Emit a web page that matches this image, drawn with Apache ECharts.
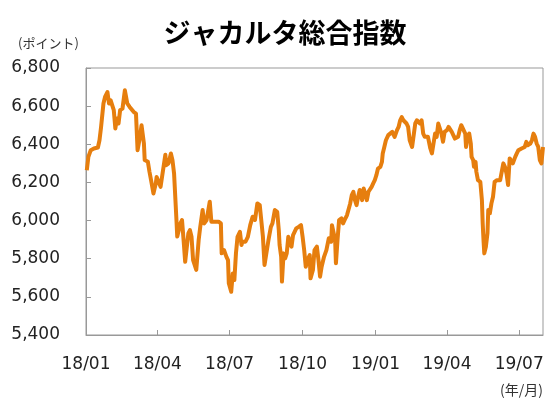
<!DOCTYPE html>
<html><head><meta charset="utf-8">
<script src="https://cdn.jsdelivr.net/npm/echarts@6/dist/echarts.min.js"></script>
<style>html,body{margin:0;padding:0;background:#fff}#c{width:550px;height:401px}</style>
</head><body><div id="c"></div>
<script>
const titleText = 'ジャカルタ総合指数';
const yUnit = '(ポイント)';
const xUnit = '(年/月)';
const tickDates = ['2018-01-01','2018-04-01','2018-07-01','2018-10-01','2019-01-01','2019-04-01','2019-07-01'];
const tickLabels = ['18/01','18/04','18/07','18/10','19/01','19/04','19/07'];
const dates = [
'2018-01-02','2018-01-04','2018-01-07','2018-01-11','2018-01-16','2018-01-18','2018-01-20','2018-01-22','2018-01-23','2018-01-25','2018-01-28','2018-01-30',
'2018-02-01','2018-02-05','2018-02-07','2018-02-09','2018-02-11','2018-02-13','2018-02-16','2018-02-19','2018-02-22','2018-02-25','2018-02-27',
'2018-03-02','2018-03-05','2018-03-07','2018-03-10','2018-03-12','2018-03-15','2018-03-16','2018-03-20','2018-03-22','2018-03-24','2018-03-26','2018-03-27','2018-03-30','2018-03-31',
'2018-04-01','2018-04-05','2018-04-07','2018-04-11','2018-04-12','2018-04-15','2018-04-18','2018-04-20','2018-04-22','2018-04-25','2018-04-26','2018-04-27','2018-04-30',
'2018-05-02','2018-05-04','2018-05-06','2018-05-08','2018-05-10','2018-05-12','2018-05-14','2018-05-16','2018-05-20','2018-05-23','2018-05-25','2018-05-28','2018-05-30',
'2018-06-02','2018-06-06','2018-06-08','2018-06-11','2018-06-17','2018-06-20','2018-06-21','2018-06-24','2018-06-27','2018-06-29','2018-06-30',
'2018-07-03','2018-07-05','2018-07-07','2018-07-09','2018-07-11','2018-07-14','2018-07-16','2018-07-17','2018-07-21','2018-07-24','2018-07-27','2018-07-30',
'2018-08-02','2018-08-05','2018-08-08','2018-08-10','2018-08-12','2018-08-14','2018-08-16','2018-08-19','2018-08-22','2018-08-24','2018-08-27','2018-08-30',
'2018-09-01','2018-09-02','2018-09-04','2018-09-05','2018-09-07','2018-09-09','2018-09-11','2018-09-13','2018-09-15','2018-09-17','2018-09-19','2018-09-23','2018-09-26','2018-09-29',
'2018-10-01','2018-10-03','2018-10-05','2018-10-07','2018-10-10','2018-10-11','2018-10-14','2018-10-16','2018-10-19','2018-10-21','2018-10-23','2018-10-25','2018-10-28','2018-10-31',
'2018-11-03','2018-11-06','2018-11-07','2018-11-09','2018-11-11','2018-11-12','2018-11-14','2018-11-16','2018-11-19','2018-11-21','2018-11-24','2018-11-26','2018-11-28','2018-11-30',
'2018-12-02','2018-12-04','2018-12-06','2018-12-08','2018-12-10','2018-12-12','2018-12-15','2018-12-17','2018-12-19','2018-12-21','2018-12-23','2018-12-25','2018-12-27','2018-12-29','2018-12-31',
'2019-01-02','2019-01-04','2019-01-07','2019-01-09','2019-01-10','2019-01-12','2019-01-14','2019-01-17','2019-01-19','2019-01-22','2019-01-25','2019-01-28','2019-01-30',
'2019-02-01','2019-02-03','2019-02-05','2019-02-07','2019-02-09','2019-02-11','2019-02-13','2019-02-16','2019-02-18','2019-02-20','2019-02-22','2019-02-24','2019-02-26','2019-02-28',
'2019-03-02','2019-03-04','2019-03-08','2019-03-11','2019-03-13','2019-03-15','2019-03-17','2019-03-19','2019-03-21','2019-03-23','2019-03-25','2019-03-27','2019-03-29',
'2019-04-01','2019-04-03','2019-04-05','2019-04-07','2019-04-09','2019-04-11','2019-04-13','2019-04-15','2019-04-17','2019-04-19','2019-04-21','2019-04-24','2019-04-25','2019-04-27','2019-04-29',
'2019-05-01','2019-05-02','2019-05-04','2019-05-05','2019-05-07','2019-05-08','2019-05-10','2019-05-13','2019-05-15','2019-05-16','2019-05-17','2019-05-18','2019-05-20','2019-05-22','2019-05-23','2019-05-25','2019-05-27','2019-05-29','2019-05-31',
'2019-06-03','2019-06-07','2019-06-09','2019-06-11','2019-06-13','2019-06-15','2019-06-17','2019-06-19','2019-06-21','2019-06-23','2019-06-26','2019-06-28','2019-06-30',
'2019-07-02','2019-07-04','2019-07-06','2019-07-08','2019-07-10','2019-07-12','2019-07-15','2019-07-17','2019-07-19','2019-07-21','2019-07-23','2019-07-25','2019-07-27','2019-07-29','2019-07-31'
];
const values = [
6264,6334,6369,6378,6383,6421,6491,6500,6614,6648,6674,6614,
6631,6579,6483,6535,6509,6579,6587,6683,6614,6596,6596,
6570,6561,6369,6439,6500,6404,6317,6308,6256,6212,6203,6142,6195,6229,
6238,6177,6186,6345,6290,6300,6352,6317,6247,6003,5916,5907,5985,
6003,5898,5784,5776,5933,5950,5915,5793,5741,5898,5967,6055,5985,
6003,6099,5994,5994,5994,5985,5828,5845,5810,5793,5671,
5627,5723,5688,5828,5915,5941,5872,5889,5889,5915,5976,6020,
6003,6090,6081,6072,5915,5767,5776,5898,5967,5985,6055,6046,
5950,5872,5810,5680,5828,5802,5828,5915,5924,5863,5924,5959,5967,5976,
5915,5845,5758,5793,5819,5697,5741,5845,5863,5793,5706,5758,5810,5845,
5907,5889,5976,5976,5898,5776,5898,6003,6012,5985,6012,6029,6038,6090,
6133,6151,6107,6081,6125,6160,6107,6168,6160,6107,6151,6142,6177,6195,6212,
6238,6273,6282,6308,6352,6386,6421,6448,6456,6465,6439,6474,6491,
6526,6543,6526,6535,6509,6491,6421,6386,6395,6509,6526,6535,6509,6526,
6456,6439,6439,6378,6352,6404,6456,6439,6509,6517,6456,6413,6465,
6474,6491,6483,6465,6474,6430,6421,6439,6474,6500,6491,6456,6386,6439,6456,
6404,6334,6317,6282,6308,6256,6212,6203,6107,5985,5898,5828,5863,5933,6055,6038,6090,6125,6203,
6212,6212,6203,6300,6282,6247,6186,6326,6317,6300,6334,6352,6369,
6360,6378,6369,6386,6413,6395,6404,6421,6456,6439,6404,6386,6317,6300,6386
];
const xStart = '2018-01-01', xEnd = '2019-07-31';
const yMin = 5400, yMax = 6800, yStep = 200;

const ts = d => Date.UTC(+d.slice(0,4), +d.slice(5,7) - 1, +d.slice(8,10));
const chart = echarts.init(document.getElementById('c'), null, {renderer:'canvas'});
const tickTs = tickDates.map(ts);
const labelMap = {};
tickTs.forEach((t,i) => labelMap[t] = tickLabels[i]);
const font = 'DejaVu Sans, Verdana, sans-serif';
chart.setOption({
  animation: false,
  backgroundColor: '#fff',
  grid: {left: 86, right: 7, top: 68, bottom: 66, show: true, borderColor: '#999', borderWidth: 1},
  graphic: [
    {type:'text', x: 285, y: 33, style:{text: titleText, fontSize: 27, fontWeight: 'bold', fontFamily: 'Noto Sans CJK JP', fill: '#000', align: 'center', verticalAlign: 'middle'}},
    {type:'text', x: 18, y: 43, style:{text: yUnit, fontSize: 13, fontFamily: 'Noto Sans CJK JP', fill: '#333', align: 'left', verticalAlign: 'middle'}},
    {type:'text', x: 543, y: 390, style:{text: xUnit, fontSize: 14, fontFamily: 'Noto Sans CJK JP', fill: '#333', align: 'right', verticalAlign: 'middle'}}
  ],
  xAxis: {
    type: 'value',
    min: ts(xStart), max: ts(xEnd),
    axisLine: {show: true, lineStyle: {color: '#999'}},
    axisTick: {show: true, inside: true, length: 5, customValues: tickTs, lineStyle: {color: '#999'}},
    axisLabel: {customValues: tickTs, formatter: v => labelMap[v] || '', fontSize: 17, fontFamily: font, color: '#222', margin: 21},
    splitLine: {show: false}
  },
  yAxis: {
    type: 'value', min: yMin, max: yMax, interval: yStep,
    axisLine: {show: true, lineStyle: {color: '#999'}},
    axisTick: {show: true, inside: true, length: 5, lineStyle: {color: '#999'}},
    axisLabel: {fontSize: 17, fontFamily: font, color: '#222', margin: 26, formatter: v => v.toLocaleString('en-US')},
    splitLine: {show: false}
  },
  series: [{
    type: 'line', data: dates.map((d,i) => [ts(d), values[i]]), showSymbol: false,
    lineStyle: {color: '#E67E0E', width: 4, join: 'round'}, itemStyle: {color: '#E67E0E'}
  }]
});
</script></body></html>
